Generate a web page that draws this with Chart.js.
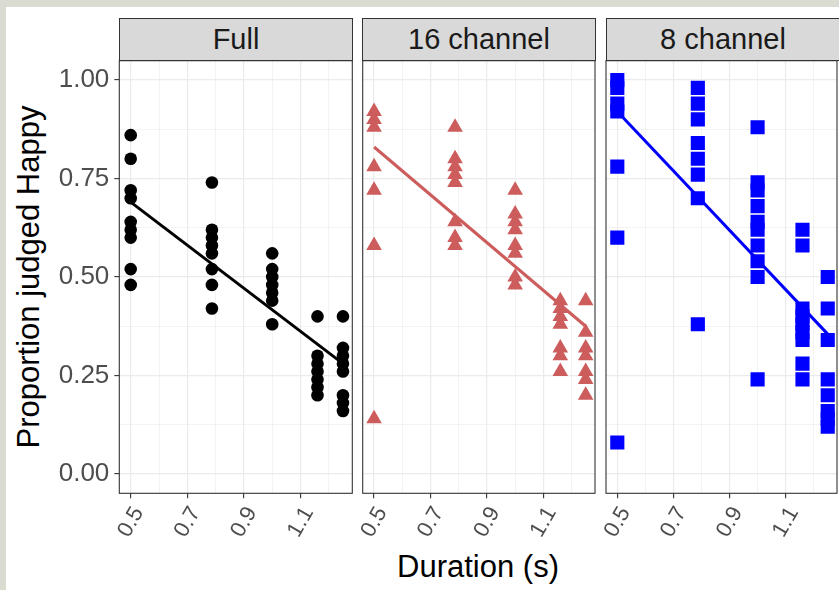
<!DOCTYPE html>
<html>
<head>
<meta charset="utf-8">
<script src="https://cdn.jsdelivr.net/npm/chart.js@4.4.1/dist/chart.umd.min.js"></script>
<style>
  html, body { margin: 0; padding: 0; width: 839px; height: 590px; overflow: hidden; background: #dadcd1; }
  body { position: relative; font-family: "Liberation Sans", Arial, sans-serif; }
  #page { position: absolute; left: 6px; top: 7px; width: 833px; height: 583px; background: #fff; }
  canvas { position: absolute; }
  .strip { position: absolute; top: 18px; height: 43px; background: #d9d9d9; border: 1px solid #333;
           box-sizing: border-box; text-align: center; line-height: 41px; font-size: 29px; color: #1a1a1a; }
  .title { position: absolute; text-align: center; font-size: 31px; color: #000; white-space: nowrap; }
</style>
</head>
<body>
<div id="page"></div>
<div class="title" style="left:-171px; top:257px; width:400px; height:40px; line-height:40px; transform:rotate(-90deg);">Proportion judged Happy</div>
<div class="title" style="left:278px; top:547px; width:400px; height:40px; line-height:40px;">Duration (s)</div>

<script>
// x positions of the five durations (s)
const durations = [0.5, 0.787, 1.0, 1.16, 1.25];

// proportion judged happy, one list per duration
const fullValues = [
  [0.86, 0.80, 0.72, 0.70, 0.64, 0.62, 0.60, 0.52, 0.48],
  [0.74, 0.62, 0.60, 0.58, 0.56, 0.52, 0.48, 0.42],
  [0.56, 0.52, 0.50, 0.48, 0.46, 0.44, 0.38],
  [0.40, 0.30, 0.28, 0.26, 0.24, 0.22, 0.20],
  [0.40, 0.32, 0.30, 0.28, 0.26, 0.20, 0.18, 0.16]
];
const ch16Values = [
  [0.92, 0.90, 0.88, 0.78, 0.72, 0.58, 0.14],
  [0.88, 0.80, 0.78, 0.76, 0.74, 0.64, 0.60, 0.58],
  [0.72, 0.66, 0.64, 0.62, 0.58, 0.56, 0.50, 0.48],
  [0.44, 0.42, 0.40, 0.38, 0.32, 0.30, 0.26],
  [0.44, 0.36, 0.32, 0.30, 0.26, 0.24, 0.20]
];
const ch8Values = [
  [1.00, 0.98, 0.94, 0.92, 0.78, 0.60, 0.08],
  [0.98, 0.94, 0.90, 0.84, 0.80, 0.76, 0.70, 0.38],
  [0.88, 0.74, 0.72, 0.68, 0.64, 0.62, 0.58, 0.54, 0.50, 0.24],
  [0.62, 0.58, 0.42, 0.40, 0.38, 0.36, 0.34, 0.28, 0.24],
  [0.50, 0.42, 0.34, 0.24, 0.20, 0.16, 0.14, 0.12]
];

// fitted line ends (at first and last duration)
const fitX = [0.5, 1.25];
const fullFit = [0.69, 0.28];
const ch16Fit = [0.83, 0.375];
const ch8Fit = [0.92, 0.355];

const panelNames = ['Full', '16 channel', '8 channel'];

const xMajor = [0.5, 0.7, 0.9, 1.1];
const xTickLabels = ['0.5', '0.7', '0.9', '1.1'];
const xMinor = [0.6, 0.8, 1.0, 1.2];
const yMajor = [0, 0.25, 0.5, 0.75, 1];
const yTickLabels = ['0.00', '0.25', '0.50', '0.75', '1.00'];
const yMinor = [0.125, 0.375, 0.625, 0.875];

const xMin = 0.4597, xMax = 1.283;
const yMin = -0.049, yMax = 1.049;

const FONT = '"Liberation Sans", Arial, sans-serif';
const GRID = '#ebebeb';
const DARK = '#333333';

// panel geometry (page pixels)
const plotLefts = [119.3, 362.7, 606];
const plotW = 233, plotTop = 60.7, plotBottom = 493.3;
const canvasTop = 50, canvasH = 500;

function isIn(list, v) { return list.some(m => Math.abs(m - v) < 1e-6); }
function labelOf(list, labels, v) {
  const i = list.findIndex(m => Math.abs(m - v) < 1e-6);
  return i < 0 ? '' : labels[i];
}
function points(values) {
  const out = [];
  values.forEach((col, i) => col.forEach(v => out.push({x: durations[i], y: v})));
  return out;
}

const frame = {
  id: 'frame',
  afterDraw(chart) {
    const a = chart.chartArea, ctx = chart.ctx;
    ctx.save();
    ctx.strokeStyle = DARK;
    ctx.lineWidth = 1.1;
    ctx.strokeRect(a.left, a.top, a.right - a.left, a.bottom - a.top);
    ctx.restore();
  }
};

function makePanel(i, values, fit, color, style, radius) {
  const first = i === 0;
  const padL = first ? 0 : 40;
  const yW = first ? 69.3 : 0;
  const left = Math.round(plotLefts[i] - padL - yW);
  const innerL = plotLefts[i] - left;
  const width = Math.round(innerL + plotW + 8);

  const cv = document.createElement('canvas');
  cv.width = width; cv.height = canvasH;
  cv.style.left = left + 'px'; cv.style.top = canvasTop + 'px';
  cv.style.width = width + 'px'; cv.style.height = canvasH + 'px';
  document.body.appendChild(cv);

  const strip = document.createElement('div');
  strip.className = 'strip';
  strip.style.left = Math.round(plotLefts[i] - 0.5) + 'px';
  strip.style.width = (plotW + 1) + 'px';
  strip.textContent = panelNames[i];
  document.body.appendChild(strip);

  new Chart(cv, {
    type: 'scatter',
    data: {
      datasets: [
        {
          data: fitX.map((x, k) => ({x: x, y: fit[k]})),
          showLine: true, borderColor: color, borderWidth: 3,
          pointRadius: 0, order: 0
        },
        {
          data: points(values),
          pointStyle: style, pointRadius: radius, backgroundColor: color,
          borderWidth: 0, order: 1
        }
      ]
    },
    options: {
      responsive: false, animation: false, events: [],
      layout: {padding: {left: first ? 0 : innerL, right: width - innerL - plotW, top: plotTop - canvasTop, bottom: 0}},
      plugins: {legend: {display: false}, tooltip: {enabled: false}},
      scales: {
        x: {
          type: 'linear', min: xMin, max: xMax,
          afterBuildTicks: s => { s.ticks = xMajor.concat(xMinor).sort((a, b) => a - b).map(v => ({value: v})); },
          afterFit: s => { s.height = canvasTop + canvasH - plotBottom; s.paddingLeft = 0; s.paddingRight = 0; },
          ticks: {
            autoSkip: false, minRotation: 60, maxRotation: 60, padding: 4, labelOffset: 8,
            color: '#4d4d4d', font: {family: FONT, size: 22},
            callback: v => labelOf(xMajor, xTickLabels, v)
          },
          grid: {
            color: GRID,
            lineWidth: c => isIn(xMajor, c.tick.value) ? 1.2 : 0.6,
            tickLength: 5, tickWidth: 1.1,
            tickColor: c => isIn(xMajor, c.tick.value) ? DARK : 'rgba(0,0,0,0)'
          },
          border: {display: false}
        },
        y: {
          type: 'linear', min: yMin, max: yMax,
          afterBuildTicks: s => { s.ticks = yMajor.concat(yMinor).sort((a, b) => a - b).map(v => ({value: v})); },
          afterFit: s => { s.width = yW; s.paddingTop = 0; s.paddingBottom = 0; },
          ticks: {
            display: first, padding: 5,
            color: '#4d4d4d', font: {family: FONT, size: 26},
            callback: v => labelOf(yMajor, yTickLabels, v)
          },
          grid: {
            color: GRID,
            lineWidth: c => isIn(yMajor, c.tick.value) ? 1.2 : 0.6,
            drawTicks: first, tickLength: 5, tickWidth: 1.1,
            tickColor: c => isIn(yMajor, c.tick.value) ? DARK : 'rgba(0,0,0,0)'
          },
          border: {display: false}
        }
      }
    },
    plugins: [frame]
  });
}

makePanel(0, fullValues, fullFit, '#000000', 'circle', 6.3);
makePanel(1, ch16Values, ch16Fit, '#cd5c5c', 'triangle', 9);
makePanel(2, ch8Values, ch8Fit, '#0000ff', 'rect', 10);
</script>
</body>
</html>
